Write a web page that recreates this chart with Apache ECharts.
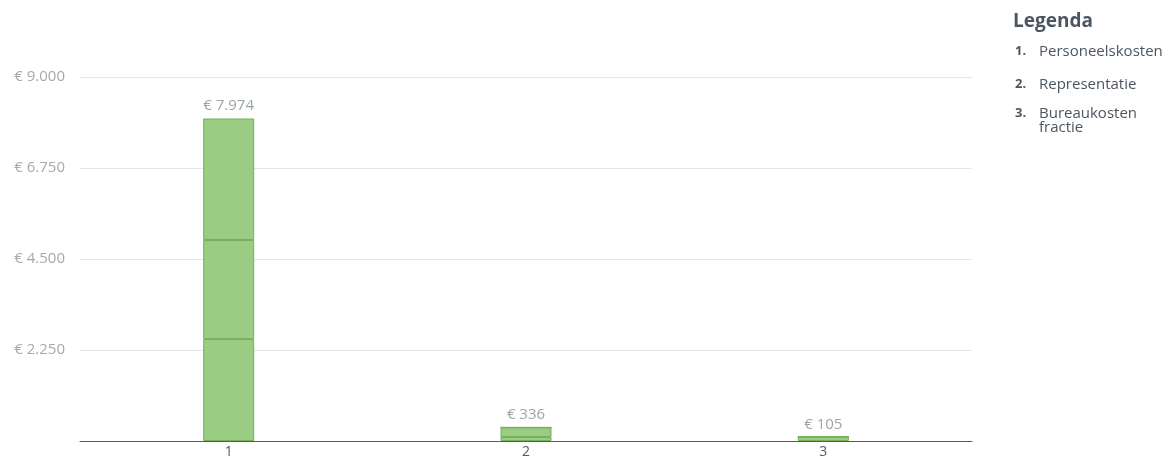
<!DOCTYPE html>
<html>
<head>
<meta charset="utf-8">
<script src="https://cdn.jsdelivr.net/npm/echarts@6/dist/echarts.min.js"></script>
<style>
  html, body { margin: 0; padding: 0; background: #fff; }
  #chart { width: 1172px; height: 462px; }
</style>
</head>
<body>
<div id="chart"></div>
<script>
// categorieën en gestapelde deelbedragen
const categories = ['1', '2', '3']
const segmentA = [2520, 100, 105]
const segmentB = [2450, 236, 0]
const segmentC = [3004, 0, 0]
const totals = [7974, 336, 105]
const legendItems = ['Personeelskosten', 'Representatie', 'Bureaukosten\nfractie']
const yMax = 9000
const yInterval = 2250

const fmtEuro = v => '€ ' + String(v).replace(/\B(?=(\d{3})+(?!\d))/g, '.')

const barStyle = {
  color: '#9bcc83',
  borderColor: '#74b05a',
  borderWidth: 1
}

function stackSeries(data) {
  return {
    type: 'bar',
    stack: 'kosten',
    barWidth: 51,
    data: data,
    itemStyle: barStyle,
    emphasis: { disabled: true }
  }
}

const chart = echarts.init(document.getElementById('chart'))

// legenda rechtsboven als tekst
const legendGraphics = [{
  type: 'text',
  left: 1013,
  top: 12,
  style: { text: 'Legenda', font: 'bold 19px "Open Sans"', fill: '#4b5661' }
}]
const rowTops = [45, 78, 107]
legendItems.forEach((name, i) => {
  legendGraphics.push({
    type: 'text',
    left: 1015,
    top: rowTops[i],
    style: { text: (i + 1) + '.', font: 'bold 13px "Open Sans"', fill: '#4b5661' }
  })
  legendGraphics.push({
    type: 'text',
    left: 1039,
    top: rowTops[i] - 1,
    style: { text: name, font: '15px "Open Sans"', fill: '#4b5661', lineHeight: 14 }
  })
})

const option = {
  animation: false,
  grid: { left: 80, right: 200, top: 77, bottom: 21, containLabel: false },
  xAxis: {
    type: 'category',
    data: categories,
    axisLine: { lineStyle: { color: '#555a60', width: 1 } },
    axisTick: { show: false },
    axisLabel: { color: '#555a60', fontFamily: 'Open Sans', fontSize: 14, margin: 4 }
  },
  yAxis: {
    type: 'value',
    min: 0,
    max: yMax,
    interval: yInterval,
    axisLine: { show: false },
    axisTick: { show: false },
    splitLine: { lineStyle: { color: '#e3e5e6' } },
    axisLabel: {
      color: '#a3aaad',
      fontFamily: 'Open Sans',
      fontSize: 15,
      margin: 15,
      formatter: v => (v === 0 ? '' : fmtEuro(v))
    }
  },
  series: [
    stackSeries(segmentA),
    stackSeries(segmentB),
    stackSeries(segmentC),
    {
      type: 'bar',
      stack: 'kosten',
      barWidth: 51,
      data: totals.map(() => 0),
      itemStyle: { color: 'transparent' },
      label: {
        show: true,
        position: 'top',
        distance: 5,
        color: '#9aa5a6',
        fontFamily: 'Open Sans',
        fontSize: 15,
        formatter: p => fmtEuro(totals[p.dataIndex])
      }
    }
  ],
  graphic: legendGraphics
}

chart.setOption(option)
</script>
</body>
</html>
